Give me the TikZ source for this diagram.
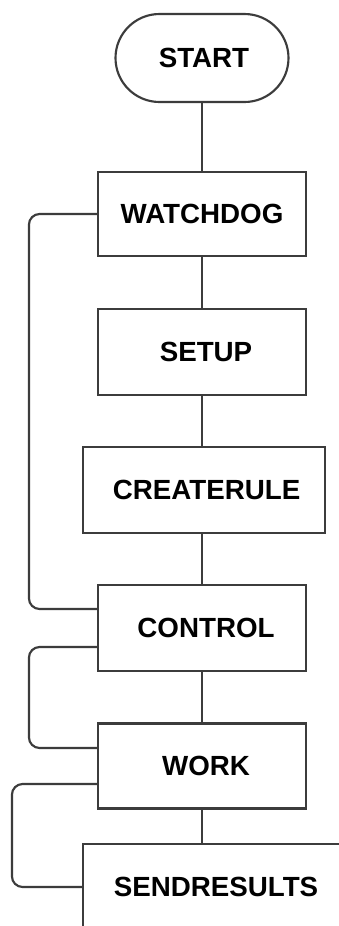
\documentclass[tikz,border=0pt]{standalone}
\usepackage{fontspec}
\setmainfont{Liberation Sans}
\usepackage{tikz}
\usetikzlibrary{calc}
\definecolor{linegray}{RGB}{60,60,60}

\tikzset{
  block/.style={draw=linegray, line width=1.6pt, inner sep=0pt,
    minimum width=156pt, minimum height=64.5pt,
    font=\bfseries\fontsize{20.8}{24}\selectfont},
  terminal/.style={block, rounded corners=33pt, minimum width=129.75pt, minimum height=66pt},
  wire/.style={draw=linegray, line width=1.6pt},
  loopback/.style={wire, rounded corners=8pt}
}

\begin{document}
\begin{tikzpicture}[x=0.75pt,y=0.75pt]
    \useasboundingbox (0,0) rectangle (339,-926);
    \clip (0,0) rectangle (339,-926);
    \fill[white] (0,0) rectangle (339,-926);
    % main column
    \node[terminal] (start) at (202,-58) {\hspace{3pt}START};
    \node[block, minimum height=63pt] (watchdog) at (202,-214) {WATCHDOG};
    \node[block, minimum height=65pt] (setup) at (202,-352) {\hspace{6pt}SETUP};
    \node[block, minimum width=181.5pt] (createrule) at (204,-490) {\hspace{4pt}CREATERULE};
    \node[block] (control) at (202,-628) {\hspace{6pt}CONTROL};
    \node[block, minimum height=63.75pt] (work) at (202,-766) {\hspace{6pt}WORK};
    \node[block, minimum width=199.5pt] (sendresults) at (216,-887) {SENDRESULTS};
    % straight links
    \draw[wire] (start) -- (watchdog);
    \draw[wire] (watchdog) -- (setup);
    \draw[wire] (setup.south) -- (setup.south |- createrule.north);
    \draw[wire] (createrule.south -| setup.south) -- (control.north);
    \draw[wire] (control) -- (work);
    \draw[wire] (work.south) -- (work.south |- sendresults.north);
    % loops on the left
    \draw[loopback] (watchdog.west) -- ++(-68,0) |- ($(control.west)+(0,19)$);
    \draw[loopback] ($(control.west)+(0,-19)$) -- ++(-68,0) |- ($(work.west)+(0,18)$);
    \draw[loopback] ($(work.west)+(0,-18)$) -- ++(-85,0) |- (sendresults.west);
\end{tikzpicture}
\end{document}
